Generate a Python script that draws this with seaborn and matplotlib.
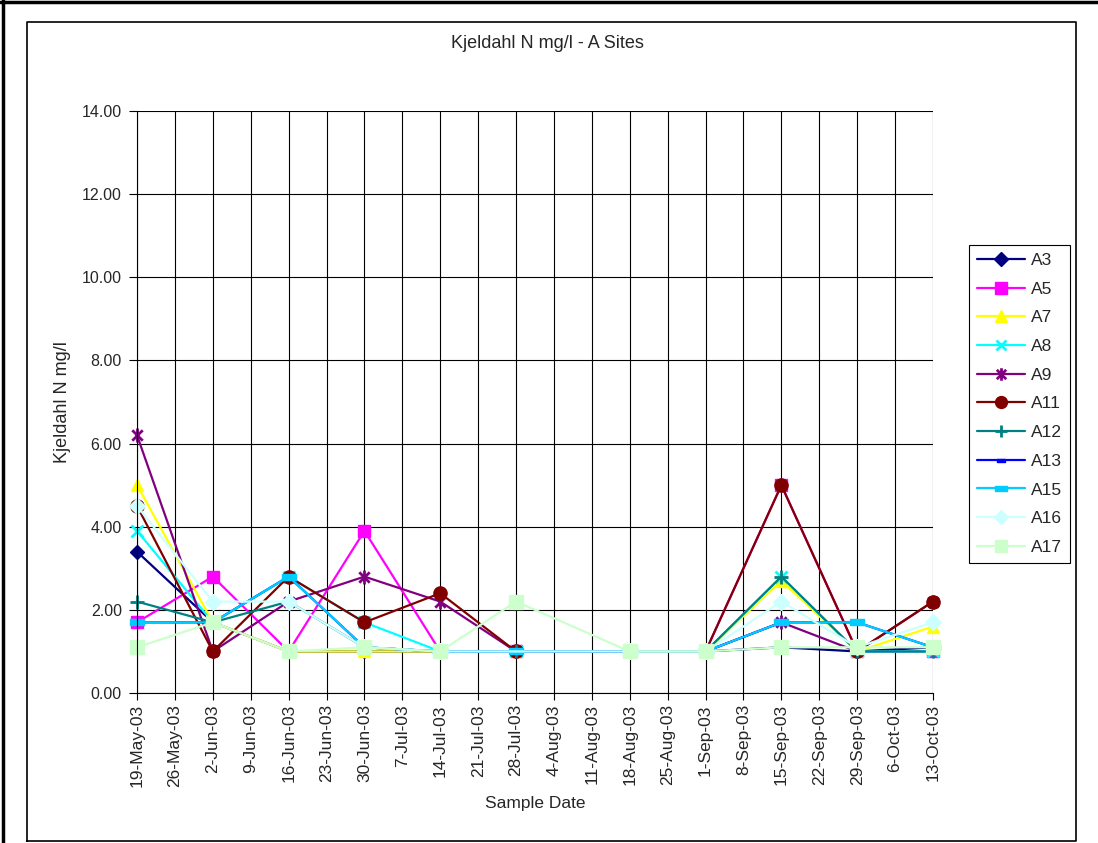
import matplotlib
matplotlib.use("Agg")
import matplotlib.pyplot as plt
from matplotlib.path import Path
from matplotlib.lines import Line2D
import seaborn as sns
import pandas as pd
import numpy as np

# Sample dates
sample_dates = ["2003-05-19", "2003-06-02", "2003-06-16", "2003-06-30", "2003-07-14",
                "2003-07-28", "2003-08-18", "2003-09-01", "2003-09-15", "2003-09-29",
                "2003-10-13"]

# Kjeldahl N (mg/l) per site
A3 = [3.4, 1.7, 1.0, 1.0, 1.0, 1.0, 1.0, 1.0, 1.1, 1.0, 1.1]
A5 = [1.7, 2.8, 1.0, 3.9, 1.0, 1.0, 1.0, 1.0, 5.0, 1.0, 1.0]
A7 = [5.0, 1.7, 1.0, 1.0, 1.0, 1.0, 1.0, 1.0, 2.7, 1.0, 1.6]
A8 = [3.9, 1.7, 2.8, 1.7, 1.0, 1.0, 1.0, 1.0, 2.8, 1.0, 1.0]
A9 = [6.2, 1.0, 2.2, 2.8, 2.2, 1.0, 1.0, 1.0, 1.7, 1.0, 2.2]
A11 = [4.5, 1.0, 2.8, 1.7, 2.4, 1.0, 1.0, 1.0, 5.0, 1.0, 2.2]
A12 = [2.2, 1.7, 2.2, 1.1, 1.0, 1.0, 1.0, 1.0, 2.8, 1.0, 1.0]
A13 = [1.7, 1.7, 2.8, 1.1, 1.0, 1.0, 1.0, 1.0, 1.7, 1.7, 1.1]
A15 = [1.7, 1.7, 2.8, 1.1, 1.0, 1.0, 1.0, 1.0, 1.7, 1.7, 1.1]
A16 = [4.5, 2.2, 2.2, 1.1, 1.0, np.nan, 1.0, 1.0, 2.2, 1.1, 1.7]
A17 = [1.1, 1.7, 1.0, 1.1, 1.0, 2.2, 1.0, 1.0, 1.1, 1.1, 1.1]

site_names = ["A3", "A5", "A7", "A8", "A9", "A11", "A12", "A13", "A15", "A16", "A17"]
site_values = [A3, A5, A7, A8, A9, A11, A12, A13, A15, A16, A17]

y_ticks = [0, 2, 4, 6, 8, 10, 12, 14]
x_start, x_end = "2003-05-19", "2003-10-13"

# Marker shapes
asterisk = Path([(0, -1), (0, 1), (-0.75, -0.75), (0.75, 0.75), (-0.75, 0.75), (0.75, -0.75)],
                [Path.MOVETO, Path.LINETO, Path.MOVETO, Path.LINETO, Path.MOVETO, Path.LINETO])
bar = Path([(-1, -0.4), (1, -0.4), (1, 0.4), (-1, 0.4), (-1, -0.4)],
           [Path.MOVETO, Path.LINETO, Path.LINETO, Path.LINETO, Path.CLOSEPOLY])

styles = {
    "A3":  dict(color="#000080", marker="D", ms=7.5, mew=1),
    "A5":  dict(color="#FF00FF", marker="s", ms=9, mew=1),
    "A7":  dict(color="#FFFF00", marker="^", ms=9, mew=1),
    "A8":  dict(color="#00FFFF", marker="x", ms=8, mew=2),
    "A9":  dict(color="#800080", marker=asterisk, ms=10, mew=2),
    "A11": dict(color="#800000", marker="o", ms=9.5, mew=1),
    "A12": dict(color="#008080", marker="+", ms=10, mew=2),
    "A13": dict(color="#0000FF", marker=bar, ms=6, mew=1),
    "A15": dict(color="#00CCFF", marker=bar, ms=10, mew=1),
    "A16": dict(color="#CCFFFF", marker="D", ms=8, mew=1),
    "A17": dict(color="#CCFFCC", marker="s", ms=10, mew=1),
}

sns.set_style("white")
plt.rcParams["font.family"] = ["Liberation Sans", "DejaVu Sans"]

fig = plt.figure(figsize=(10.98, 8.43), dpi=100)
ax = fig.add_axes([0.1248, 0.1779, 0.8497 - 0.1248, 0.8683 - 0.1779])

dates = pd.to_datetime(sample_dates)
for name, vals in zip(site_names, site_values):
    st = styles[name]
    sns.lineplot(x=dates, y=vals, ax=ax, color=st["color"], linewidth=1.6,
                 marker=st["marker"], markersize=st["ms"], markeredgewidth=st["mew"],
                 markeredgecolor=st["color"], markerfacecolor=st["color"],
                 label=name, legend=False, clip_on=False)

week_ticks = pd.date_range(x_start, x_end, freq="7D")
ax.set_xlim(pd.Timestamp(x_start), pd.Timestamp(x_end))
ax.set_xticks(week_ticks)
ax.set_xticklabels([f"{d.day}-{d.strftime('%b-%y')}" for d in week_ticks],
                   rotation=90, fontsize=12.5)
ax.set_ylim(0, 14)
ax.set_yticks(y_ticks)
ax.set_yticklabels([f"{v:.2f}" for v in y_ticks], fontsize=11.5)

ax.grid(True, color="black", linewidth=0.8)
ax.set_axisbelow(True)
ax.tick_params(axis="y", direction="out", length=6, width=0.8, color="black",
               left=True, pad=5)
ax.tick_params(axis="x", direction="out", length=5, width=0.8, color="black",
               bottom=True, pad=3)
for side in ["top", "right"]:
    ax.spines[side].set_visible(False)
for side in ["left", "bottom"]:
    ax.spines[side].set_color("black")
    ax.spines[side].set_linewidth(0.8)

ax.set_xlabel("Sample Date", fontsize=12.5)
ax.xaxis.label.set_va("center")
ax.xaxis.set_label_coords(0.5, (693 - 803) / 582)
ax.set_ylabel("Kjeldahl N mg/l", fontsize=13)
ax.yaxis.label.set_va("center")
ax.yaxis.set_label_coords((62 - 137) / 796, 0.5)
fig.text(0.4985, 1 - 44 / 843, "Kjeldahl N mg/l - A Sites", ha="center", va="center",
         fontsize=13)

handles = ax.get_lines()[:len(site_names)]
leg = ax.legend(handles, site_names, loc="upper left",
                bbox_to_anchor=(969 / 1098, 1 - 245 / 843), bbox_transform=fig.transFigure,
                borderaxespad=0, frameon=True, fancybox=False, framealpha=1,
                edgecolor="black", fontsize=12.5, handlelength=2.8, handletextpad=0.3,
                labelspacing=0.78, borderpad=0.45, markerscale=0.9)
leg.get_frame().set_linewidth(0.8)

# Chart frame lines
fig.add_artist(Line2D([0, 1], [1 - 2 / 843, 1 - 2 / 843], transform=fig.transFigure,
                      color="black", linewidth=2.5))
fig.add_artist(Line2D([3 / 1098, 3 / 1098], [0, 1], transform=fig.transFigure,
                      color="black", linewidth=2.5))
x0, x1 = 27 / 1098, 1076 / 1098
y0, y1 = 1 - 841 / 843, 1 - 22 / 843
fig.add_artist(Line2D([x0, x1, x1, x0, x0], [y0, y0, y1, y1, y0], transform=fig.transFigure,
                      color="black", linewidth=1.2))

fig.savefig("out.png", dpi=100, facecolor="white")
